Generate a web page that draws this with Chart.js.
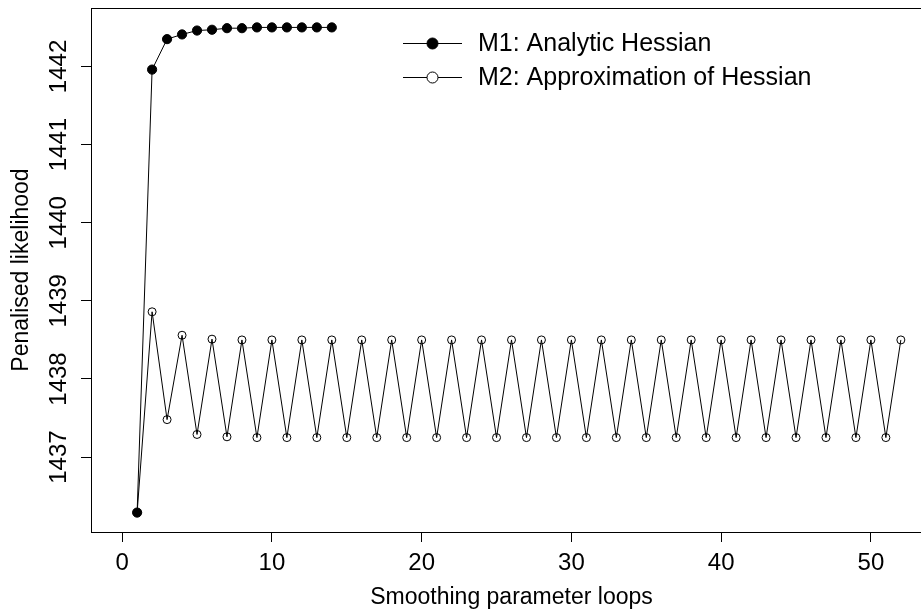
<!DOCTYPE html>
<html>
<head>
<meta charset="utf-8">
<title>Penalised likelihood</title>
<script src="https://cdn.jsdelivr.net/npm/chart.js@4.4.1/dist/chart.umd.min.js"></script>
<style>
  html, body { margin: 0; padding: 0; background: #fff; overflow: hidden; }
  #wrap { width: 921px; height: 615px; overflow: hidden; }
</style>
</head>
<body>
<div id="wrap"><canvas id="plot" width="945" height="615"></canvas></div>
<script>
// smoothing parameter loops and penalised likelihood per method
const loopsM1 = [1, 2, 3, 4, 5, 6, 7, 8, 9, 10, 11, 12, 13, 14];
const likM1 = [1436.29, 1441.96, 1442.35, 1442.41, 1442.46, 1442.47, 1442.49,
               1442.49, 1442.50, 1442.50, 1442.50, 1442.50, 1442.50, 1442.50];

const loopsM2 = [1, 2, 3, 4, 5, 6, 7, 8, 9, 10, 11, 12, 13, 14, 15, 16, 17, 18, 19, 20,
                 21, 22, 23, 24, 25, 26, 27, 28, 29, 30, 31, 32, 33, 34, 35, 36, 37, 38, 39, 40,
                 41, 42, 43, 44, 45, 46, 47, 48, 49, 50, 51, 52];
const likM2 = [1436.29, 1438.86, 1437.48, 1438.56, 1437.29, 1438.51, 1437.26, 1438.50, 1437.25, 1438.50,
               1437.25, 1438.50, 1437.25, 1438.50, 1437.25, 1438.50, 1437.25, 1438.50, 1437.25, 1438.50,
               1437.25, 1438.50, 1437.25, 1438.50, 1437.25, 1438.50, 1437.25, 1438.50, 1437.25, 1438.50,
               1437.25, 1438.50, 1437.25, 1438.50, 1437.25, 1438.50, 1437.25, 1438.50, 1437.25, 1438.50,
               1437.25, 1438.50, 1437.25, 1438.50, 1437.25, 1438.50, 1437.25, 1438.50, 1437.25, 1438.50,
               1437.25, 1438.50];

const seriesNames = ['M1: Analytic Hessian', 'M2: Approximation of Hessian'];
const xTicks = [0, 10, 20, 30, 40, 50];
const yTicks = [1437, 1438, 1439, 1440, 1441, 1442];
const xRange = [0, 52];

// base-graphics style limits: data range widened by 4% each side
function widen(lo, hi) {
  const d = (hi - lo) * 0.04;
  return [lo - d, hi + d];
}
const allY = likM1.concat(likM2);
const [xMin, xMax] = widen(xRange[0], xRange[1]);
const [yMin, yMax] = widen(Math.min(...allY), Math.max(...allY));

const FAMILY = "'Liberation Sans', Arial, Helvetica, sans-serif";
const tickFont = { family: FAMILY, size: 24 };
const titleFont = { family: FAMILY, size: 23 };
const legendFont = { family: FAMILY, size: 25 };

// plot box and the line+symbol legend
const framePlugin = {
  id: 'frame',
  afterDraw(chart) {
    const { ctx, chartArea: a } = chart;
    ctx.save();
    ctx.strokeStyle = '#000';
    ctx.lineWidth = 1;
    ctx.strokeRect(Math.round(a.left) + 0.5, Math.round(a.top) + 0.5,
                   Math.round(a.right - a.left), Math.round(a.bottom - a.top));

    const rows = [43, 77];
    ctx.font = `${legendFont.size}px ${legendFont.family}`;
    ctx.textBaseline = 'middle';
    ctx.textAlign = 'left';
    chart.data.datasets.forEach((ds, i) => {
      const y = rows[i];
      ctx.strokeStyle = '#000';
      ctx.lineWidth = 1;
      ctx.beginPath();
      ctx.moveTo(403, y + 0.5);
      ctx.lineTo(462, y + 0.5);
      ctx.stroke();
      ctx.beginPath();
      ctx.arc(432.5, y + 0.5, 5.5, 0, Math.PI * 2);
      ctx.fillStyle = i === 0 ? '#000' : '#fff';
      ctx.fill();
      ctx.stroke();
      ctx.fillStyle = '#000';
      ctx.fillText(ds.label, 478, y + 1);
    });
    ctx.restore();
  }
};

const toPoints = (xs, ys) => xs.map((x, i) => ({ x: x, y: ys[i] }));

new Chart(document.getElementById('plot').getContext('2d'), {
  type: 'line',
  data: {
    datasets: [
      {
        label: seriesNames[0],
        data: toPoints(loopsM1, likM1),
        borderColor: '#000',
        borderWidth: 1,
        backgroundColor: '#000',
        pointRadius: 4.6,
        pointBorderWidth: 1,
        pointBackgroundColor: '#000',
        pointBorderColor: '#000',
        tension: 0,
        clip: false
      },
      {
        label: seriesNames[1],
        data: toPoints(loopsM2, likM2),
        borderColor: '#000',
        borderWidth: 1,
        pointRadius: 4,
        pointBorderWidth: 1,
        pointBackgroundColor: 'rgba(0,0,0,0)',
        pointBorderColor: '#000',
        tension: 0,
        clip: false
      }
    ]
  },
  options: {
    responsive: false,
    animation: false,
    events: [],
    layout: { padding: { top: 8, right: 13, left: 0, bottom: 0 } },
    plugins: {
      legend: { display: false },
      tooltip: { enabled: false }
    },
    scales: {
      x: {
        type: 'linear',
        position: 'bottom',
        min: xMin,
        max: xMax,
        afterBuildTicks: s => { s.ticks = xTicks.map(v => ({ value: v })); },
        afterFit: s => { s.height = 83; s.paddingLeft = 0; s.paddingRight = 0; },
        border: { display: false },
        grid: { drawOnChartArea: false, drawTicks: true, tickLength: 10, color: '#000', lineWidth: 1 },
        ticks: { color: '#000', font: tickFont, padding: 7, maxRotation: 0, autoSkip: false,
                 callback: v => String(v) },
        title: { display: true, text: 'Smoothing parameter loops', color: '#000', font: titleFont,
                 padding: { top: 0, bottom: 4 } }
      },
      y: {
        type: 'linear',
        position: 'left',
        min: yMin,
        max: yMax,
        afterBuildTicks: s => { s.ticks = yTicks.map(v => ({ value: v })); },
        afterFit: s => { s.width = 91; s.paddingTop = 0; s.paddingBottom = 0; },
        border: { display: false },
        grid: { drawOnChartArea: false, drawTicks: true, tickLength: 10, color: '#000', lineWidth: 1 },
        ticks: { color: '#000', font: tickFont, padding: -5, minRotation: 90, maxRotation: 90,
                 crossAlign: 'center', autoSkip: false, callback: v => String(v) },
        title: { display: true, text: 'Penalised likelihood', color: '#000', font: titleFont,
                 padding: { top: 8, bottom: 0 } }
      }
    }
  },
  plugins: [framePlugin]
});
</script>
</body>
</html>
